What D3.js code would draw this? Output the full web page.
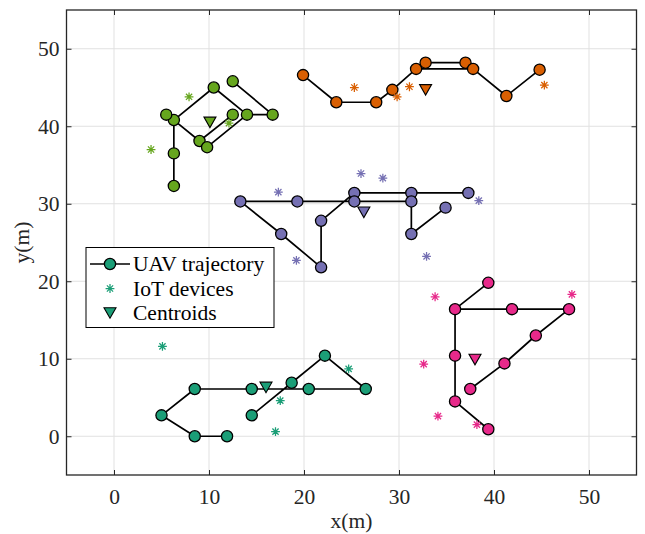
<!DOCTYPE html>
<html>
<head>
<meta charset="utf-8">
<script src="https://d3js.org/d3.v7.min.js"></script>
<style>
  html, body { margin: 0; padding: 0; background: #ffffff; }
  svg { display: block; }
</style>
</head>
<body>
<svg id="chart" width="645" height="534"></svg>
<script>
// ---------------- data ----------------
const xTicks = [0, 10, 20, 30, 40, 50];
const yTicks = [0, 10, 20, 30, 40, 50];
const xDomain = [-5, 55];
const yDomain = [-5, 55];

const clusterColors = ["#1b9e77", "#d95f02", "#7570b3", "#e7298a", "#66a61e"];

// UAV waypoints per cluster, and flight route (indices, null = break)
const tealX = [11.9, 8.5, 5.0, 8.5, 14.5, 20.5, 26.5, 22.2, 18.7, 14.5];
const tealY = [0.0, 0.0, 2.7, 6.1, 6.1, 6.1, 6.1, 10.4, 6.9, 2.7];
const tealRoute = [0, 1, 2, 3, 4, 5, 6, 7, 8, 9];

const orangeX = [19.9, 23.4, 27.6, 29.3, 31.8, 32.8, 37.0, 37.8, 41.3, 44.8];
const orangeY = [46.6, 43.1, 43.1, 44.7, 47.4, 48.2, 48.2, 47.4, 43.9, 47.3];
const orangeRoute = [0, 1, 2, 3, 4, 5, 6, 7, 8, 9, null, 4, 7];

const purpleX = [13.3, 19.3, 25.3, 25.3, 31.3, 31.3, 37.3, 17.6, 21.8, 21.8, 31.3, 34.9];
const purpleY = [30.3, 30.3, 31.4, 30.3, 31.4, 30.3, 31.4, 26.1, 27.8, 21.8, 26.1, 29.5];
const purpleRoute = [11, 10, 5, 3, 1, 0, 7, 9, 8, 2, 4, 6];

const pinkX = [39.4, 35.9, 35.9, 35.9, 39.4, 41.9, 47.9, 44.4, 41.1, 37.5];
const pinkY = [0.9, 4.5, 10.4, 16.4, 19.8, 16.4, 16.4, 13.0, 9.4, 6.1];
const pinkRoute = [0, 1, 2, 3, 4, null, 3, 5, 6, 7, 8, 9];

const greenX = [6.3, 6.3, 6.3, 5.5, 9.0, 9.8, 10.5, 12.5, 14.0, 16.7, 12.5];
const greenY = [32.3, 36.5, 40.8, 41.5, 38.1, 37.3, 45.0, 41.5, 41.5, 41.5, 45.8];
const greenRoute = [0, 1, 2, 3, null, 2, 6, 8, 9, 10, null, 7, 4, 2, null, 4, 5, 8];

// IoT devices per cluster
const tealIoTX = [5.1, 24.7, 17.5, 17.0];
const tealIoTY = [11.6, 8.7, 4.6, 0.6];
const orangeIoTX = [25.3, 29.8, 31.1, 45.3];
const orangeIoTY = [45.0, 43.8, 45.1, 45.3];
const purpleIoTX = [17.3, 26.0, 28.3, 19.2, 32.9, 38.4];
const purpleIoTY = [31.5, 33.9, 33.3, 22.7, 23.2, 30.4];
const pinkIoTX = [33.8, 48.2, 32.6, 34.1, 38.2];
const pinkIoTY = [18.0, 18.3, 9.3, 2.6, 1.5];
const greenIoTX = [7.9, 3.9, 12.1];
const greenIoTY = [43.8, 37.0, 40.4];

// Centroids (one per cluster, same order as colours)
const centroidX = [16.0, 32.8, 26.3, 38.0, 10.1];
const centroidY = [6.3, 44.7, 28.9, 9.9, 40.5];

const legendLabels = ["UAV trajectory", "IoT devices", "Centroids"];

// ---------------- build ----------------
const clusters = [
  { wx: tealX, wy: tealY, route: tealRoute, ix: tealIoTX, iy: tealIoTY },
  { wx: orangeX, wy: orangeY, route: orangeRoute, ix: orangeIoTX, iy: orangeIoTY },
  { wx: purpleX, wy: purpleY, route: purpleRoute, ix: purpleIoTX, iy: purpleIoTY },
  { wx: pinkX, wy: pinkY, route: pinkRoute, ix: pinkIoTX, iy: pinkIoTY },
  { wx: greenX, wy: greenY, route: greenRoute, ix: greenIoTX, iy: greenIoTY }
];

const svg = d3.select("#chart");
const W = 645, H = 534;
const plot = { left: 66.5, right: 636.5, top: 10, bottom: 475 };
const FONT = "'Liberation Serif', 'Times New Roman', Times, serif";
const FS = 21.5;
const axisColor = "#262626";

const x = d3.scaleLinear().domain(xDomain).range([plot.left, plot.right]);
const y = d3.scaleLinear().domain(yDomain).range([plot.bottom, plot.top]);

svg.append("rect").attr("x", 0).attr("y", 0).attr("width", W).attr("height", H).attr("fill", "#fff");

// grid
const grid = svg.append("g");
grid.selectAll("line.gx").data(xTicks).join("line")
  .attr("x1", d => x(d)).attr("x2", d => x(d))
  .attr("y1", plot.top).attr("y2", plot.bottom)
  .attr("stroke", "#e1e1e1").attr("stroke-width", 1);
grid.selectAll("line.gy").data(yTicks).join("line")
  .attr("y1", d => y(d)).attr("y2", d => y(d))
  .attr("x1", plot.left).attr("x2", plot.right)
  .attr("stroke", "#e1e1e1").attr("stroke-width", 1);

// axes with inward ticks
const tickLen = 5;
const axB = d3.axisBottom(x).tickValues(xTicks).tickSize(-tickLen).tickPadding(14).tickFormat(d3.format("d"));
const axT = d3.axisTop(x).tickValues(xTicks).tickSize(-tickLen).tickFormat("");
const axL = d3.axisLeft(y).tickValues(yTicks).tickSize(-tickLen).tickPadding(7).tickFormat(d3.format("d"));
const axR = d3.axisRight(y).tickValues(yTicks).tickSize(-tickLen).tickFormat("");

function styleAxis(g) {
  g.select(".domain").remove();
  g.selectAll(".tick line").attr("stroke", axisColor).attr("stroke-width", 1);
  g.selectAll(".tick text").attr("fill", axisColor).style("font-family", FONT).style("font-size", FS + "px");
}
svg.append("g").attr("transform", `translate(0,${plot.bottom})`).call(axB).call(styleAxis);
svg.append("g").attr("transform", `translate(0,${plot.top})`).call(axT).call(styleAxis);
svg.append("g").attr("transform", `translate(${plot.left},0)`).call(axL).call(styleAxis);
svg.append("g").attr("transform", `translate(${plot.right},0)`).call(axR).call(styleAxis);

// frame
svg.append("rect")
  .attr("x", plot.left).attr("y", plot.top)
  .attr("width", plot.right - plot.left).attr("height", plot.bottom - plot.top)
  .attr("fill", "none").attr("stroke", axisColor).attr("stroke-width", 1.3);

// axis labels
svg.append("text").attr("x", (plot.left + plot.right) / 2).attr("y", 528)
  .attr("text-anchor", "middle").attr("fill", axisColor)
  .style("font-family", FONT).style("font-size", FS + "px").text("x(m)");
svg.append("text").attr("transform", `translate(29,${(plot.top + plot.bottom) / 2}) rotate(-90)`)
  .attr("text-anchor", "middle").attr("fill", axisColor)
  .style("font-family", FONT).style("font-size", FS + "px").text("y(m)");

// marker helpers
const R = 5.6;
function asteriskPath(s) {
  const a = s, b = s * 0.7071;
  return `M${-a},0L${a},0M0,${-a}L0,${a}M${-b},${-b}L${b},${b}M${-b},${b}L${b},${-b}`;
}
function triPath(w, h) {
  return `M${-w / 2},${-h / 2}L${w / 2},${-h / 2}L0,${h / 2}Z`;
}

const dataLayer = svg.append("g");
const line = d3.line()
  .defined(d => d !== null)
  .x(d => x(d[0])).y(d => y(d[1]));

clusters.forEach((c, ci) => {
  const col = clusterColors[ci];
  const g = dataLayer.append("g");
  const routePts = c.route.map(i => i === null ? null : [c.wx[i], c.wy[i]]);
  g.append("path").datum(routePts).attr("d", line)
    .attr("fill", "none").attr("stroke", "#000").attr("stroke-width", 1.7)
    .attr("stroke-linejoin", "round");
  g.selectAll("circle").data(d3.range(c.wx.length)).join("circle")
    .attr("cx", i => x(c.wx[i])).attr("cy", i => y(c.wy[i])).attr("r", R)
    .attr("fill", col).attr("stroke", "#000").attr("stroke-width", 1.3);
});

clusters.forEach((c, ci) => {
  const col = clusterColors[ci];
  dataLayer.append("g").selectAll("path").data(d3.range(c.ix.length)).join("path")
    .attr("transform", i => `translate(${x(c.ix[i])},${y(c.iy[i])})`)
    .attr("d", asteriskPath(4.4))
    .attr("stroke", col).attr("stroke-width", 1.25).attr("fill", "none");
});

dataLayer.append("g").selectAll("path").data(d3.range(centroidX.length)).join("path")
  .attr("transform", i => `translate(${x(centroidX[i])},${y(centroidY[i])})`)
  .attr("d", triPath(12, 10.5))
  .attr("fill", (d, i) => clusterColors[i]).attr("stroke", "#000").attr("stroke-width", 1.1)
  .attr("stroke-linejoin", "miter");

// legend
const lg = svg.append("g");
const lgBox = { x: 86, y: 247.5, w: 188, h: 80 };
lg.append("rect").attr("x", lgBox.x).attr("y", lgBox.y).attr("width", lgBox.w).attr("height", lgBox.h)
  .attr("fill", "#fff").attr("stroke", "#000").attr("stroke-width", 1);
const rowY = [264, 288.5, 313];
const symX = 110;
// row 1: line + circle
lg.append("line").attr("x1", 90).attr("x2", 130).attr("y1", rowY[0]).attr("y2", rowY[0])
  .attr("stroke", "#000").attr("stroke-width", 1.7);
lg.append("circle").attr("cx", symX).attr("cy", rowY[0]).attr("r", R)
  .attr("fill", clusterColors[0]).attr("stroke", "#000").attr("stroke-width", 1.3);
// row 2: asterisk
lg.append("path").attr("transform", `translate(${symX},${rowY[1]})`).attr("d", asteriskPath(4.4))
  .attr("stroke", clusterColors[0]).attr("stroke-width", 1.25).attr("fill", "none");
// row 3: triangle
lg.append("path").attr("transform", `translate(${symX},${rowY[2]})`).attr("d", triPath(12, 10.5))
  .attr("fill", clusterColors[0]).attr("stroke", "#000").attr("stroke-width", 1.1);
lg.selectAll("text").data(legendLabels).join("text")
  .attr("x", 133).attr("y", (d, i) => rowY[i] + 7)
  .attr("fill", "#000").style("font-family", FONT).style("font-size", FS + "px")
  .text(d => d);
</script>
</body>
</html>
